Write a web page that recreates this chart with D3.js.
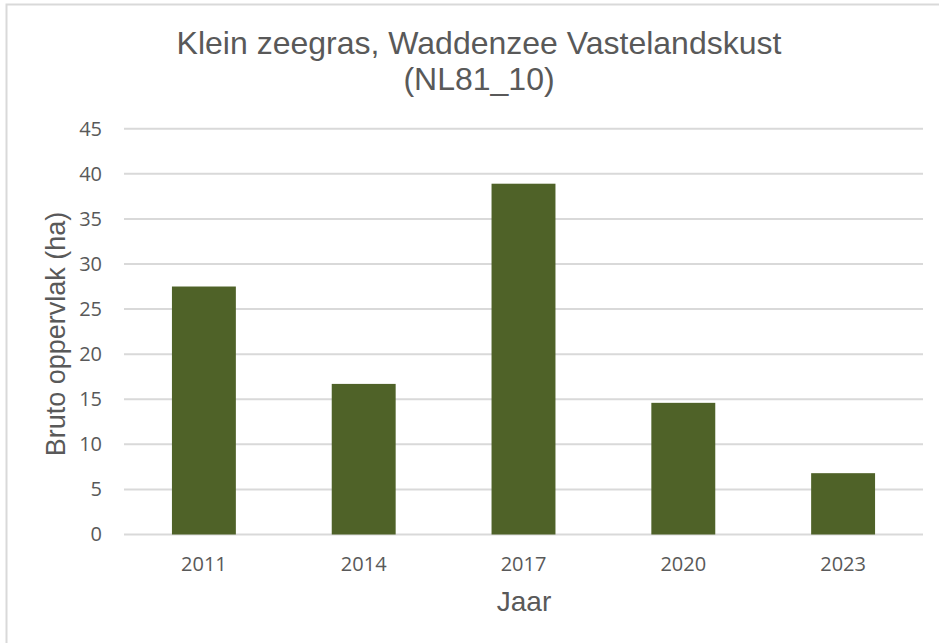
<!DOCTYPE html>
<html>
<head>
<meta charset="utf-8">
<script src="https://cdn.jsdelivr.net/npm/d3@7"></script>
<style>
  body { margin: 0; background: #fff; }
  svg { display: block; }
</style>
</head>
<body>
<svg id="chart" width="939" height="643"></svg>
<script>
var years = ['2011', '2014', '2017', '2020', '2023'];
var area = [27.5, 16.7, 38.9, 14.6, 6.8];
var yTicks = [0, 5, 10, 15, 20, 25, 30, 35, 40, 45];
var titleLines = ['Klein zeegras, Waddenzee Vastelandskust', '(NL81_10)'];

var svg = d3.select('#chart');
var plotLeft = 124, plotRight = 923, plotTop = 128.7, plotBottom = 534.5;
var textColor = '#595959';

// chart frame (only top and left edges are visible in the crop)
svg.append('rect')
    .attr('x', 6.5).attr('y', 4.5)
    .attr('width', 960).attr('height', 660)
    .attr('fill', '#fff')
    .attr('stroke', '#d9d9d9')
    .attr('stroke-width', 2);

var x = d3.scaleBand().domain(years).range([plotLeft, plotRight])
    .paddingInner(0.6).paddingOuter(0.3);
var y = d3.scaleLinear().domain([0, 45]).range([plotBottom, plotTop]);

// gridlines
svg.append('g')
    .selectAll('line')
    .data(yTicks)
    .enter().append('line')
    .attr('x1', plotLeft).attr('x2', plotRight)
    .attr('y1', function(d) { return y(d); })
    .attr('y2', function(d) { return y(d); })
    .attr('stroke', '#d9d9d9')
    .attr('stroke-width', 2);

// bars
svg.append('g')
    .selectAll('rect')
    .data(years)
    .enter().append('rect')
    .attr('x', function(d) { return x(d); })
    .attr('y', function(d, i) { return y(area[i]); })
    .attr('width', x.bandwidth())
    .attr('height', function(d, i) { return y(0) - y(area[i]); })
    .attr('fill', '#4f6228');

// y axis labels
var yAxis = d3.axisLeft(y).tickValues(yTicks).tickSize(0).tickPadding(22);
svg.append('g')
    .attr('transform', 'translate(' + plotLeft + ',0)')
    .call(yAxis)
    .call(function(g) { g.select('.domain').remove(); })
    .selectAll('text')
    .attr('font-family', 'Open Sans, sans-serif')
    .attr('font-size', 20)
    .attr('fill', textColor);

// x axis labels
var xAxis = d3.axisBottom(x).tickSize(0).tickPadding(22);
svg.append('g')
    .attr('transform', 'translate(0,' + plotBottom + ')')
    .call(xAxis)
    .call(function(g) { g.select('.domain').remove(); })
    .selectAll('text')
    .attr('font-family', 'Open Sans, sans-serif')
    .attr('font-size', 20)
    .attr('fill', textColor);

// title
svg.append('g')
    .selectAll('text')
    .data(titleLines)
    .enter().append('text')
    .attr('x', 479)
    .attr('y', function(d, i) { return 53.5 + i * 36.5; })
    .attr('text-anchor', 'middle')
    .attr('font-family', 'Liberation Sans, Arial, sans-serif')
    .attr('font-size', 32)
    .attr('fill', textColor)
    .text(function(d) { return d; });

// axis titles
svg.append('text')
    .attr('x', 524).attr('y', 611)
    .attr('text-anchor', 'middle')
    .attr('font-family', 'Liberation Sans, Arial, sans-serif')
    .attr('font-size', 28)
    .attr('fill', textColor)
    .text('Jaar');

svg.append('text')
    .attr('transform', 'translate(65,334) rotate(-90)')
    .attr('text-anchor', 'middle')
    .attr('font-family', 'Liberation Sans, Arial, sans-serif')
    .attr('font-size', 27)
    .attr('fill', textColor)
    .text('Bruto oppervlak (ha)');
</script>
</body>
</html>
